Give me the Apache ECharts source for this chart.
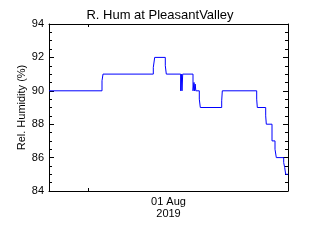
<!DOCTYPE html>
<html><head><meta charset="utf-8">
<script src="https://cdn.jsdelivr.net/npm/echarts@6/dist/echarts.min.js"></script>
<style>html,body{margin:0;padding:0;background:#fff}#c{width:320px;height:240px}</style>
</head><body><div id="c"></div>
<script>
// hours relative to 01 Aug 2019 00:00
const hours = [-3.9, 1.4, 1.5, 6.53, 6.67, 7.73, 7.83, 9.27, 9.33, 9.4, 9.47, 10.5, 10.6, 10.65, 10.72, 10.78, 11.13, 11.23, 13.37, 13.43, 16.87, 16.93, 17.77, 17.83, 18.4, 18.7, 18.83, 19.57, 19.67, 19.77, 20.0];
const humidity = [90, 90.6, 91, 91.4, 92, 91.5, 91, 90, 91, 90, 91, 90, 90.5, 90, 90.4, 90, 89.5, 89, 89.4, 90, 89.5, 89, 88.5, 88, 87, 86.5, 86, 85.7, 85.4, 85.0, 85.0];
const yTicks = [84, 86, 88, 90, 92, 94];
const dateLabel = "01 Aug\n2019";
const titleText = "R. Hum at PleasantValley";
const yName = "Rel. Humidity (%)";

const data = hours.map((h, i) => [h, humidity[i]]);
const font = "Liberation Sans";
const xMin = -3.9, xMax = 20.0;
const chart = echarts.init(document.getElementById('c'), null, {renderer: 'canvas'});
const axisLineStyle = {color: '#000', width: 1};
chart.setOption({
  animation: false,
  backgroundColor: '#fff',
  title: {text: titleText, left: 'center', top: 4, textStyle: {fontFamily: font, fontSize: 13, fontWeight: 'normal', color: '#000'}},
  grid: {left: 49, right: 32, top: 24, bottom: 49},
  xAxis: [
    {type: 'value', position: 'bottom', min: xMin, max: xMax,
     axisLine: {show: true, onZero: false, lineStyle: axisLineStyle},
     axisTick: {show: true, inside: true, length: 3, customValues: [0], lineStyle: axisLineStyle},
     axisLabel: {show: false}, splitLine: {show: false},
     name: dateLabel, nameLocation: 'middle', nameGap: 5, nameMoveOverlap: false,
     nameTextStyle: {fontFamily: font, fontSize: 11, color: '#000', lineHeight: 12, verticalAlign: 'top'}},
    {type: 'value', position: 'top', min: xMin, max: xMax,
     axisLine: {show: true, onZero: false, lineStyle: axisLineStyle},
     axisTick: {show: true, inside: true, length: 3, customValues: [0], lineStyle: axisLineStyle},
     axisLabel: {show: false}, splitLine: {show: false}}
  ],
  yAxis: [
    {type: 'value', position: 'left', min: yTicks[0], max: yTicks[yTicks.length-1], interval: 2,
     axisLine: {show: true, onZero: false, lineStyle: axisLineStyle},
     axisTick: {show: true, inside: true, length: 5, lineStyle: axisLineStyle},
     minorTick: {show: true, splitNumber: 4, length: 3, lineStyle: axisLineStyle},
     axisLabel: {show: true, fontFamily: font, fontSize: 11, color: '#000', margin: 5},
     splitLine: {show: false},
     name: yName, nameLocation: 'middle', nameGap: 22, nameMoveOverlap: false,
     nameTextStyle: {fontFamily: font, fontSize: 11, color: '#000'}},
    {type: 'value', position: 'right', min: yTicks[0], max: yTicks[yTicks.length-1], interval: 2,
     axisLine: {show: true, onZero: false, lineStyle: axisLineStyle},
     axisTick: {show: true, inside: true, length: 5, lineStyle: axisLineStyle},
     minorTick: {show: true, splitNumber: 4, length: 3, lineStyle: axisLineStyle},
     axisLabel: {show: false}, splitLine: {show: false}}
  ],
  series: [{
    type: 'line', step: 'end', data: data, xAxisIndex: 0, yAxisIndex: 0,
    showSymbol: false, symbol: 'none',
    lineStyle: {color: '#0000ff', width: 1}
  }]
});
</script></body></html>
